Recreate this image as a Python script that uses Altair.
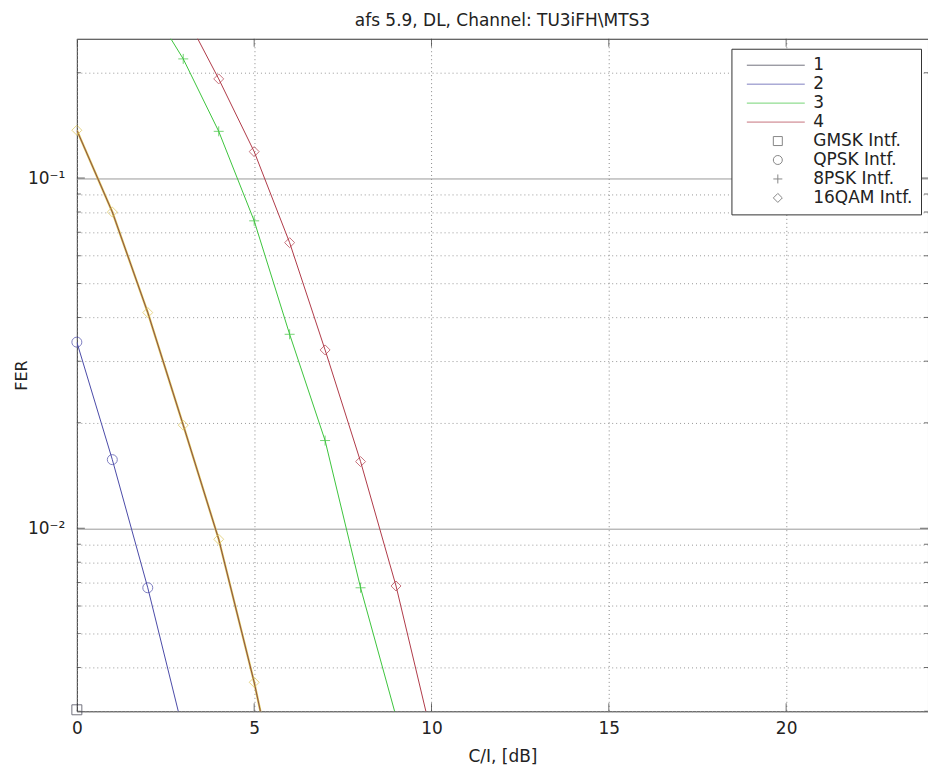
import altair as alt
import pandas as pd

TITLE = "afs 5.9, DL, Channel: TU3iFH\\MTS3"
X_TITLE = "C/I, [dB]"
Y_TITLE = "FER"

# ---- data ----
gmsk_x = [0, 1, 2]
gmsk_y = [0.00303, 0.0011, 0.0004]

qpsk_x = [0, 1, 2, 3]
qpsk_y = [0.034, 0.0157, 0.00676, 0.00263]

low_x = [0, 1, 2, 3, 4, 5, 6]
low_y = [0.137, 0.080, 0.0413, 0.0197, 0.0093, 0.00363, 0.00123]

psk8_x = [2, 3, 4, 5, 6, 7, 8, 9]
psk8_y = [0.32, 0.219, 0.136, 0.0755, 0.0358, 0.0178, 0.00676, 0.0029]

qam16_x = [3, 4, 5, 6, 7, 8, 9, 10]
qam16_y = [0.30, 0.192, 0.119, 0.0654, 0.0323, 0.0155, 0.00684, 0.00257]

x_ticks = [0, 5, 10, 15, 20]
y_major = [0.01, 0.1]
y_minor = [0.003, 0.004, 0.005, 0.006, 0.007, 0.008, 0.009,
           0.02, 0.03, 0.04, 0.05, 0.06, 0.07, 0.08, 0.09, 0.2]
y_values = sorted(y_major + y_minor)

legend_entries = ["1", "2", "3", "4",
                  "GMSK Intf.", "QPSK Intf.", "8PSK Intf.", "16QAM Intf."]
domain_all = legend_entries + ["5", "6"]
color_range = ["#383848", "#4a4aa8", "#3cc43c", "#b03a48",
               "#555555", "#555555", "#555555", "#555555",
               "#dcc455", "#8a5048"]
line_path = "M-6.9,0H6"
plus_path = "M-1,0H1M0,-1V1"
shape_range = [line_path, line_path, line_path, line_path,
               "square", "circle", plus_path, "diamond",
               "circle", "circle"]

series = [
    ("1", "GMSK Intf.", gmsk_x, gmsk_y),
    ("2", "QPSK Intf.", qpsk_x, qpsk_y),
    ("3", "8PSK Intf.", psk8_x, psk8_y),
    ("4", "16QAM Intf.", qam16_x, qam16_y),
    ("5", "16QAM Intf.", low_x, low_y),
    ("6", "QPSK Intf.", low_x, low_y),
]
rows = []
for line, marker, xs, ys in series:
    for xv, yv in zip(xs, ys):
        rows.append({"x": xv, "y": yv, "line": line, "marker": marker})
df = pd.DataFrame(rows)

FONT = "DejaVu Sans"
TXT = "#222222"
W, H = 853, 674

xscale = alt.Scale(domain=[0, 24], nice=False, zero=False)
yscale = alt.Scale(type="log", domain=[0.003, 0.25], nice=False)
cscale = alt.Scale(domain=domain_all, range=color_range)
sscale = alt.Scale(domain=domain_all, range=shape_range)

legend = alt.Legend(
    orient="none", legendX=656, legendY=10,
    title="\u00a0", titleOrient="left", titleFontSize=8, titlePadding=30,
    values=legend_entries, symbolSize=81, symbolStrokeWidth=1,
    symbolFillColor="transparent",
    labelFont=FONT, labelFontSize=17, labelColor=TXT, labelOffset=27,
    rowPadding=1, padding=8, strokeColor="#333333", fillColor="white",
    cornerRadius=0,
)

x_enc = alt.X(
    "x:Q", scale=xscale,
    axis=alt.Axis(
        values=x_ticks, grid=True, gridDash=[1, 3], gridColor="#888888",
        ticks=False, domain=False, labelFont=FONT, labelFontSize=17,
        labelColor=TXT, labelPadding=9, labelFlush=False,
        title=X_TITLE, titleFont=FONT, titleFontSize=17,
        titleFontWeight="normal", titleColor=TXT, titlePadding=12,
    ),
)
y_enc = alt.Y(
    "y:Q", scale=yscale,
    axis=alt.Axis(
        values=y_values, grid=True,
        gridDash={"condition": {"test": "datum.value == 0.1 || datum.value == 0.01",
                                "value": []},
                  "value": [1, 3]},
        gridColor="#999999", ticks=False, domain=False,
        labelFont=FONT, labelFontSize=17, labelColor=TXT, labelPadding=12,
        labelOverlap=False,
        labelExpr="abs(datum.value - 0.1) < 1e-9 ? '10⁻¹' : (abs(datum.value - 0.01) < 1e-9 ? '10⁻²' : '')",
        title=Y_TITLE, titleFont=FONT, titleFontSize=16, titleFontWeight="normal",
        titleColor=TXT, titleX=-55, titleY=337, titleBaseline="middle",
    ),
)

base = alt.Chart(df)

under = base.transform_filter(alt.datum.line == "5").mark_line(
    clip=True, strokeWidth=2.2
).encode(x=x_enc, y=y_enc,
         color=alt.Color("line:N", scale=cscale, legend=legend),
         detail="line:N")

lines = base.transform_filter(alt.datum.line != "5").mark_line(
    clip=True, strokeWidth=1
).encode(x=x_enc, y=y_enc,
         color=alt.Color("line:N", scale=cscale, legend=legend),
         detail="line:N")

points = base.transform_filter(
    "datum.y >= 0.003 && datum.y <= 0.25 && datum.line != '6'"
).mark_point(filled=False, size=100, strokeWidth=1).encode(
    x=x_enc, y=y_enc,
    color=alt.Color("line:N", scale=cscale, legend=legend),
    shape=alt.Shape("marker:N", scale=sscale, legend=legend),
)

xt = pd.DataFrame({"x": x_ticks})
ymaj = pd.DataFrame({"y": y_major})
ymin = pd.DataFrame({"y": y_minor})


def xtick(ypix):
    return alt.Chart(xt).mark_tick(clip=True, size=16, thickness=1, color="#333333").encode(
        x=x_enc, y=alt.value(ypix))


def ytick(data, xpix, size):
    return alt.Chart(data).mark_tick(clip=True, size=size, thickness=1, color="#333333").encode(
        y=y_enc, x=alt.value(xpix))


chart = alt.layer(
    under, lines, points,
    xtick(0), xtick(H),
    ytick(ymaj, 0, 16), ytick(ymaj, W, 16),
    ytick(ymin, 0, 8), ytick(ymin, W, 8),
).properties(
    width=W, height=H,
    title=alt.TitleParams(TITLE, font=FONT, fontSize=17, fontWeight="normal",
                          color=TXT, offset=17, dy=25, baseline="bottom", frame="group"),
    autosize=alt.AutoSizeParams(type="none"),
    padding={"left": 69, "top": 30, "right": 0, "bottom": 60},
).configure_view(stroke="#333333", strokeWidth=1)

chart.save("out.html", embed_options={"renderer": "svg", "actions": False})
